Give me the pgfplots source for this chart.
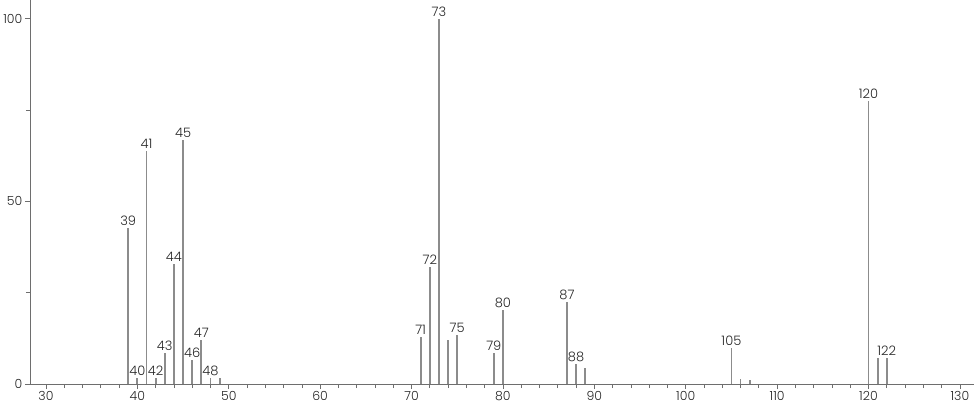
\documentclass[border=0pt]{standalone}
\usepackage{fontspec}
\setmainfont{Poppins Light}
\usepackage{pgfplots}
\pgfplotsset{compat=1.18}

\definecolor{peak}{RGB}{140,140,140}
\definecolor{axisgray}{RGB}{110,110,110}

\begin{document}
\begin{tikzpicture}
  \begin{axis}[
      scale only axis,
      width=942pt, height=383pt,
      xmin=28.25, xmax=131.5,
      ymin=0, ymax=105,
      axis x line=bottom, axis y line=left,
      axis line style={-, draw=axisgray, line width=0.8pt},
      xtick={30,40,...,130},
      minor x tick num=4,
      ytick={0,50,100},
      minor y tick num=1,
      tick style={draw=axisgray, line width=0.7pt},
      major tick length=5pt, minor tick length=4pt,
      tick align=outside,
      ticklabel style={font=\fontsize{12.5}{12.5}\selectfont, text=black!85},
      xticklabel style={yshift=1pt},
      yticklabel style={xshift=1pt},
      /pgf/number format/assume math mode=true,
      clip=false,
  ]
    % labelled peaks
    \addplot[ycomb, draw=peak, line width=1.8pt, mark=none,
      nodes near coords, point meta=explicit symbolic,
      every node near coord/.style={font=\fontsize{13}{13}\selectfont,
        text=black!85, anchor=south, inner sep=1.5pt}]
      table[meta=lab] {
        x   y     lab
        39  42.6  39
        40  1.6   40
        41  63.8  41
        42  1.6   42
        43  8.6   43
        44  32.9  44
        45  66.8  45
        46  6.7   46
        47  12.1  47
        48  1.6   48
        71  12.8  71
        72  32.0  72
        73  100   73
        75  13.4  75
        79  8.6   79
        80  20.3  80
        87  22.5  87
        88  5.4   88
        105 10.0  105
        120 77.5  120
        122 7.2   122
      };
    % unlabelled peaks
    \addplot[ycomb, draw=peak, line width=1.8pt, mark=none] coordinates {
      (49,1.6) (74,12.0) (89,4.4) (106,1.5) (107,1.1) (121,7.0)
    };
  \end{axis}
\end{tikzpicture}
\end{document}
